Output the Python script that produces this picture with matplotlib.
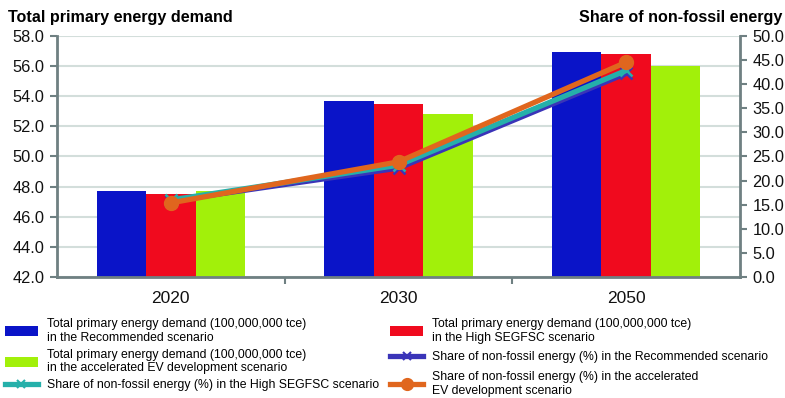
import matplotlib
matplotlib.use("Agg")
import matplotlib.pyplot as plt
import numpy as np
from matplotlib.lines import Line2D
from matplotlib.patches import Patch

plt.rcParams['font.family'] = ['Liberation Sans', 'DejaVu Sans']

years = ["2020", "2030", "2050"]
demand_recommended = [47.7, 53.7, 56.9]
demand_high = [47.5, 53.5, 56.8]
demand_ev = [47.7, 52.8, 56.0]
share_recommended = [15.8, 22.6, 42.2]
share_high = [16.0, 23.2, 42.8]
share_ev = [15.4, 23.9, 44.5]
left_ticks = [42.0, 44.0, 46.0, 48.0, 50.0, 52.0, 54.0, 56.0, 58.0]
right_ticks = [0.0, 5.0, 10.0, 15.0, 20.0, 25.0, 30.0, 35.0, 40.0, 45.0, 50.0]

labels = [
    "Total primary energy demand (100,000,000 tce)\nin the Recommended scenario",
    "Total primary energy demand (100,000,000 tce)\nin the High SEGFSC scenario",
    "Total primary energy demand (100,000,000 tce)\nin the accelerated EV development scenario",
    "Share of non-fossil energy (%) in the Recommended scenario",
    "Share of non-fossil energy (%) in the High SEGFSC scenario",
    "Share of non-fossil energy (%) in the accelerated\nEV development scenario",
]

c_blue = "#0a14c8"
c_red = "#f00a1e"
c_green = "#a2f00a"
c_purple = "#3a34b8"
c_teal = "#25b0aa"
c_orange = "#e0661e"
axis_col = "#6f8082"
grid_col = "#d3dedb"

fig = plt.figure(figsize=(7.85, 3.98), dpi=100)
ax = fig.add_axes([0.0726, 0.3033, 0.8701, 0.607])
x = np.arange(len(years))
w = 0.217
ax.bar(x - w, demand_recommended, w, color=c_blue, zorder=2)
ax.bar(x, demand_high, w, color=c_red, zorder=2)
ax.bar(x + w, demand_ev, w, color=c_green, zorder=2)
ax.set_ylim(42, 58)
ax.set_xlim(-0.5, 2.5)
ax.set_yticks(left_ticks)
ax.set_yticklabels([f"{v:.1f}" for v in left_ticks], fontsize=11.8, color="#111111")
ax.yaxis.grid(True, color=grid_col, lw=1.5, zorder=0)
ax.set_axisbelow(True)
ax.set_xticks(x)
ax.set_xticklabels(years, fontsize=12.5, color="#111111")
ax.tick_params(axis='x', which='major', length=0, pad=10)
ax.set_xticks([0.5, 1.5], minor=True)
ax.tick_params(axis='x', which='minor', length=5, width=1.5, color=axis_col)
ax.tick_params(axis='y', length=5, width=1.5, color=axis_col, pad=4)
for s in ['top', 'right']:
    ax.spines[s].set_visible(False)
for s in ['left', 'bottom']:
    ax.spines[s].set_color(axis_col)
    ax.spines[s].set_linewidth(2)

ax2 = ax.twinx()
ax2.set_ylim(0, 50)
ax2.set_yticks(right_ticks)
ax2.set_yticklabels([f"{v:.1f}" for v in right_ticks], fontsize=11.8, color="#111111")
ax2.tick_params(axis='y', length=5, width=1.5, color=axis_col, pad=4)
for s in ['top', 'left', 'bottom']:
    ax2.spines[s].set_visible(False)
ax2.spines['right'].set_color(axis_col)
ax2.spines['right'].set_linewidth(2)
ax2.plot(x, share_recommended, color=c_purple, lw=3.8, marker='x', ms=8, mew=1.8, zorder=3)
ax2.plot(x, share_high, color=c_teal, lw=3.8, marker='x', ms=8, mew=1.8, zorder=4)
ax2.plot(x, share_ev, color=c_orange, lw=3.8, marker='o', ms=10, zorder=5)

fig.text(0.010, 0.975, "Total primary energy demand", fontsize=11.6, fontweight='bold',
         ha='left', va='top')
fig.text(0.997, 0.975, "Share of non-fossil energy", fontsize=11.6, fontweight='bold',
         ha='right', va='top')

def bar_h(c):
    return Patch(facecolor=c, edgecolor='none')

def line_h(c, m, ms):
    return Line2D([0], [0], color=c, lw=3.8, marker=m, ms=ms, mew=1.5)

left_handles = [bar_h(c_blue), bar_h(c_green), line_h(c_teal, 'x', 6)]
left_labels = [labels[0], labels[2], labels[4]]
right_handles = [bar_h(c_red), line_h(c_purple, 'x', 6), line_h(c_orange, 'o', 8)]
right_labels = [labels[1], labels[3], labels[5]]

leg_kw = dict(frameon=False, fontsize=8.8, handlelength=2.7, handleheight=0.8,
              handletextpad=0.75, borderpad=0, borderaxespad=0,
              loc='upper left')
l1 = fig.legend(left_handles, left_labels, bbox_to_anchor=(0.006, 0.201),
                labelspacing=0.4, **leg_kw)
l2 = fig.legend(right_handles, right_labels, bbox_to_anchor=(0.497, 0.201),
                labelspacing=0.62, **leg_kw)
for lg in (l1, l2):
    for t in lg.get_texts():
        t.set_linespacing(1.2)

fig.savefig("out.png", dpi=100)
